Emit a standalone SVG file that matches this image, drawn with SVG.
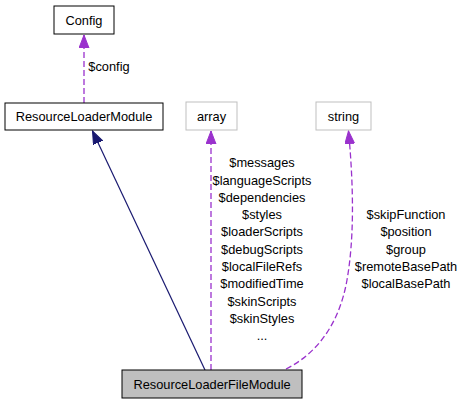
<svg xmlns="http://www.w3.org/2000/svg" width="464" height="405" viewBox="0 0 464 405">
<style>
text{font-family:"Liberation Sans",Arial,sans-serif;font-size:12.8px;fill:#000;text-anchor:middle}
.n{fill:#fff;stroke:#000;stroke-width:1}
.g{fill:#fff;stroke:#bfbfbf;stroke-width:1}
.d{fill:none;stroke:#9a32cd;stroke-width:1.3;stroke-dasharray:6,3}
.s{fill:none;stroke:#191970;stroke-width:1.2}
</style>
<defs>
<marker id="pa" markerWidth="14" markerHeight="12" refX="13" refY="5" orient="auto" markerUnits="userSpaceOnUse"><path d="M0,0 L13,5 L0,10 Z" fill="#9a32cd" stroke="#9a32cd"/></marker>
<marker id="na" markerWidth="14" markerHeight="12" refX="13" refY="5" orient="auto" markerUnits="userSpaceOnUse"><path d="M0,0 L13,5 L0,10 Z" fill="#191970" stroke="#191970"/></marker>
</defs>
<g id="connectors">
<path class="d" d="M84,103 L84,35" marker-end="url(#pa)"/>
<text x="109" y="71">$config</text>
<path class="s" d="M205,370 L92.5,131" marker-end="url(#na)"/>
<path class="d" d="M211,370 L211,131" marker-end="url(#pa)"/>
<path class="d" d="M286,369 C320,352 340,320 347,280 C354,240 354,190 348.5,131" marker-end="url(#pa)"/>
<g id="array-labels">
<text x="262" y="167">$messages</text>
<text x="262" y="184.5">$languageScripts</text>
<text x="262" y="201.8">$dependencies</text>
<text x="262" y="219.1">$styles</text>
<text x="262" y="236.4">$loaderScripts</text>
<text x="262" y="253.7">$debugScripts</text>
<text x="262" y="271">$localFileRefs</text>
<text x="262" y="288.3">$modifiedTime</text>
<text x="262" y="305.6">$skinScripts</text>
<text x="262" y="322.9">$skinStyles</text>
<text x="262" y="340.2">...</text>
</g>
<g id="string-labels">
<text x="406" y="219.1">$skipFunction</text>
<text x="406" y="236.4">$position</text>
<text x="406" y="253.7">$group</text>
<text x="406" y="271">$remoteBasePath</text>
<text x="406" y="288.3">$localBasePath</text>
</g>
</g>
<g id="Config">
<rect class="n" x="54" y="6" width="60" height="28"/>
<text x="84" y="24.5">Config</text>
</g>
<g id="ResourceLoaderModule">
<rect class="n" x="5" y="103" width="158" height="27"/>
<text x="84" y="121">ResourceLoaderModule</text>
</g>
<g id="array">
<rect class="g" x="186" y="102" width="51" height="28"/>
<text x="211.5" y="120.5">array</text>
</g>
<g id="string">
<rect class="g" x="316" y="102" width="55" height="28"/>
<text x="343.5" y="120.5">string</text>
</g>
<g id="ResourceLoaderFileModule">
<rect x="122" y="370" width="180" height="28" fill="#bfbfbf" stroke="#000" stroke-width="1"/>
<text x="212" y="388.5">ResourceLoaderFileModule</text>
</g>
</svg>
